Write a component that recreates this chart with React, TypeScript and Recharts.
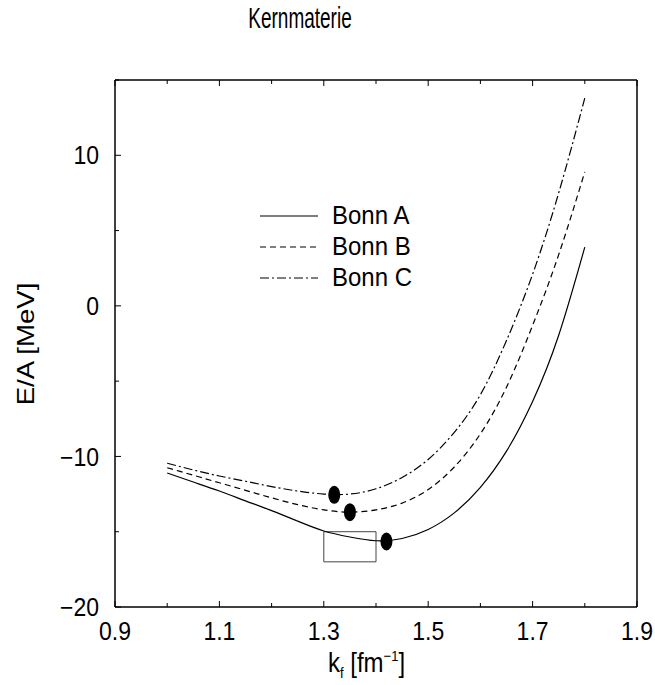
import { ComposedChart, Line, Scatter, XAxis, YAxis, ReferenceArea, Legend } from 'recharts';

// Fermi momentum grid [fm^-1]
const kf = [1.0, 1.05, 1.1, 1.15, 1.2, 1.25, 1.3, 1.35, 1.4, 1.45, 1.5, 1.55, 1.6, 1.65, 1.7, 1.75, 1.8];

// E/A [MeV] per potential
const bonnA = [-11.1, -11.7, -12.3, -12.95, -13.6, -14.3, -14.95, -15.35, -15.6, -15.45, -14.85, -13.75, -12.05, -9.65, -6.35, -1.95, 3.9];
const bonnB = [-10.75, -11.25, -11.75, -12.25, -12.75, -13.2, -13.55, -13.7, -13.55, -13.1, -12.2, -10.7, -8.5, -5.4, -1.3, 3.4, 8.9];
const bonnC = [-10.45, -10.9, -11.3, -11.65, -12.0, -12.3, -12.5, -12.5, -12.15, -11.4, -10.2, -8.4, -5.9, -2.3, 2.1, 7.5, 13.8];

// saturation points
const minK = [1.32, 1.35, 1.42];
const minE = [-12.55, -13.7, -15.65];

// empirical box
const boxK = [1.3, 1.4];
const boxE = [-17, -15];

const xTicks = [0.9, 1.0, 1.1, 1.2, 1.3, 1.4, 1.5, 1.6, 1.7, 1.8, 1.9];
const xLabels = [0.9, 1.1, 1.3, 1.5, 1.7, 1.9];
const yTicks = [-20, -15, -10, -5, 0, 5, 10, 15];
const yLabels = [-20, -10, 0, 10];

const seriesNames = ['Bonn A', 'Bonn B', 'Bonn C'];
const seriesDash = ['', '6 4', '9 3 2 3'];

const data = kf.map((k, i) => ({ k, a: bonnA[i], b: bonnB[i], c: bonnC[i] }));
const minima = minK.map((k, i) => ({ k, e: minE[i] }));

const FONT = '"Liberation Sans", Arial, Helvetica, sans-serif';

const isLabel = (list: number[], v: number) => list.some((l) => Math.abs(l - v) < 1e-6);

const fmt = (v: number) => String(v).replace('-', '\u2212');

function BottomTick(props: any) {
    const { x, y, payload } = props;
    const major = isLabel(xLabels, payload.value);
    return (
        <g>
            <line x1={x} y1={y} x2={x} y2={y - (major ? 6 : 4)} stroke="#000" strokeWidth={1} />
            {major && (
                <g transform={`translate(${x} ${y + 33}) scale(1 1.1)`}>
                    <text x={0} y={0} textAnchor="middle" fontSize={23} fontFamily={FONT} fill="#000">
                        {payload.value.toFixed(1)}
                    </text>
                </g>
            )}
        </g>
    );
}

function TopTick(props: any) {
    const { x, y, payload } = props;
    const major = isLabel(xLabels, payload.value);
    return <line x1={x} y1={y} x2={x} y2={y + (major ? 6 : 4)} stroke="#000" strokeWidth={1} />;
}

function LeftTick(props: any) {
    const { x, y, payload } = props;
    const major = isLabel(yLabels, payload.value);
    return (
        <g>
            <line x1={x} y1={y} x2={x + (major ? 6 : 4)} y2={y} stroke="#000" strokeWidth={1} />
            {major && (
                <g transform={`translate(${x - 16} ${y}) scale(1 1.1)`}>
                    <text x={0} y={0} dy="0.36em" textAnchor="end" fontSize={23} fontFamily={FONT} fill="#000">
                        {fmt(payload.value)}
                    </text>
                </g>
            )}
        </g>
    );
}

function RightTick(props: any) {
    const { x, y, payload } = props;
    const major = isLabel(yLabels, payload.value);
    return <line x1={x} y1={y} x2={x - (major ? 6 : 4)} y2={y} stroke="#000" strokeWidth={1} />;
}

function Dot(props: any) {
    const { cx, cy } = props;
    return <ellipse cx={cx} cy={cy} rx={6} ry={9} fill="#000" />;
}

function LegendBox() {
    return (
        <div style={{ fontFamily: FONT, fontSize: 24, color: '#000' }}>
            {seriesNames.map((name, i) => (
                <div key={name} style={{ display: 'flex', alignItems: 'center', height: 31 }}>
                    <svg width={72} height={10}>
                        <line x1={0} y1={5} x2={58} y2={5} stroke="#000" strokeWidth={1.2} strokeDasharray={seriesDash[i] || undefined} />
                    </svg>
                    <span style={{ display: 'inline-block', transform: 'scaleY(1.05)' }}>{name}</span>
                </div>
            ))}
        </div>
    );
}

function YLabel() {
    return (
        <g transform="translate(34 344) rotate(-90) scale(1.2 1)">
            <text x={0} y={0} textAnchor="middle" fontSize={23} fontFamily={FONT} fill="#000">
                E/A [MeV]
            </text>
        </g>
    );
}

function XLabel() {
    return (
        <g transform="translate(328 672) scale(1 1.15)">
            <text x={0} y={0} fontSize={24} fontFamily={FONT} fill="#000">
                k
                <tspan fontSize={13} dy={5}>f</tspan>
                <tspan dy={-5}> [fm</tspan>
                <tspan fontSize={13} dy={-10}>{'\u2212'}1</tspan>
                <tspan dy={10}>]</tspan>
            </text>
        </g>
    );
}

export default function App() {
    return (
        <div style={{ position: 'absolute', left: 0, top: 0, width: 655, height: 685, background: '#fff' }}>
            <div
                style={{
                    position: 'absolute',
                    left: 200,
                    top: 6,
                    width: 200,
                    textAlign: 'center',
                    fontFamily: FONT,
                    fontSize: 19,
                    lineHeight: '26px',
                    color: '#000',
                    transform: 'scaleY(1.55)',
                }}
            >
                Kernmaterie
            </div>
            <ComposedChart width={655} height={685} data={data} margin={{ top: 60, right: 8, bottom: 38, left: 55 }}>
                <XAxis
                    xAxisId="b"
                    dataKey="k"
                    type="number"
                    domain={[0.9, 1.9]}
                    ticks={xTicks}
                    tick={<BottomTick />}
                    tickSize={0}
                    tickMargin={0}
                    tickLine={false}
                    height={40}
                    axisLine={{ stroke: '#000', strokeWidth: 1.5 }}
                    interval={0}
                    label={<XLabel />}
                />
                <XAxis
                    xAxisId="t"
                    orientation="top"
                    dataKey="k"
                    type="number"
                    domain={[0.9, 1.9]}
                    ticks={xTicks}
                    tick={<TopTick />}
                    tickSize={0}
                    tickMargin={0}
                    tickLine={false}
                    height={20}
                    axisLine={{ stroke: '#000', strokeWidth: 1.5 }}
                    interval={0}
                />
                <YAxis
                    yAxisId="l"
                    type="number"
                    domain={[-20, 15]}
                    ticks={yTicks}
                    tick={<LeftTick />}
                    tickSize={0}
                    tickMargin={0}
                    tickLine={false}
                    width={60}
                    axisLine={{ stroke: '#000', strokeWidth: 1.5 }}
                    interval={0}
                    label={<YLabel />}
                />
                <YAxis
                    yAxisId="r"
                    orientation="right"
                    type="number"
                    domain={[-20, 15]}
                    ticks={yTicks}
                    tick={<RightTick />}
                    tickSize={0}
                    tickMargin={0}
                    tickLine={false}
                    width={10}
                    axisLine={{ stroke: '#000', strokeWidth: 1.5 }}
                    interval={0}
                />
                <ReferenceArea
                    xAxisId="b"
                    yAxisId="l"
                    x1={boxK[0]}
                    x2={boxK[1]}
                    y1={boxE[0]}
                    y2={boxE[1]}
                    fill="none"
                    stroke="#444"
                    strokeWidth={1}
                />
                <Line xAxisId="b" yAxisId="l" type="natural" dataKey="a" name={seriesNames[0]} stroke="#000" strokeWidth={1.2} dot={false} isAnimationActive={false} />
                <Line xAxisId="b" yAxisId="l" type="natural" dataKey="b" name={seriesNames[1]} stroke="#000" strokeWidth={1.2} strokeDasharray={seriesDash[1]} dot={false} isAnimationActive={false} />
                <Line xAxisId="b" yAxisId="l" type="natural" dataKey="c" name={seriesNames[2]} stroke="#000" strokeWidth={1.2} strokeDasharray={seriesDash[2]} dot={false} isAnimationActive={false} />
                <Scatter xAxisId="b" yAxisId="l" data={minima} dataKey="e" shape={<Dot />} isAnimationActive={false} />
                <Legend
                    layout="vertical"
                    verticalAlign="middle"
                    align="center"
                    content={<LegendBox />}
                    wrapperStyle={{ position: 'absolute', left: 260, top: 200, width: 200 }}
                />
            </ComposedChart>
        </div>
    );
}
